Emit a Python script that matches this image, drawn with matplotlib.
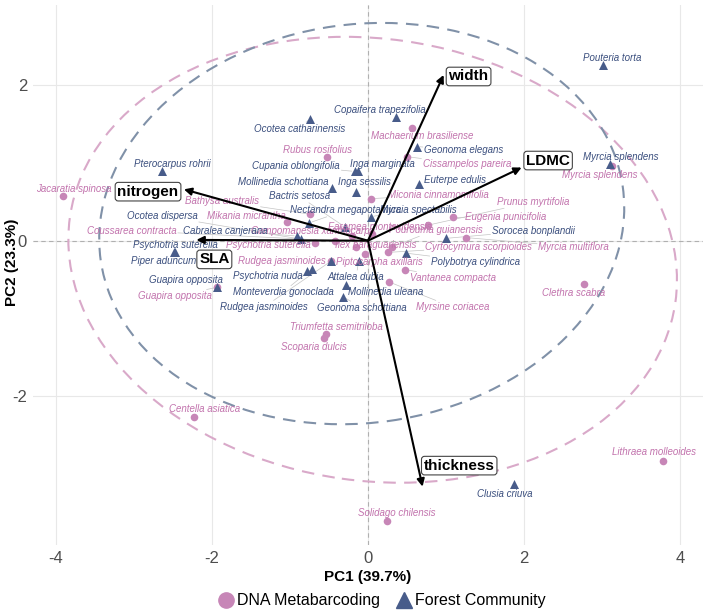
import matplotlib
matplotlib.use("Agg")
import matplotlib.pyplot as plt
from matplotlib.patches import Ellipse
from matplotlib.lines import Line2D
import numpy as np

plt.rcParams['font.family'] = ['Liberation Sans', 'DejaVu Sans']
plt.rcParams['axes.unicode_minus'] = False

# ---- data ----
forest_species = ["Pouteria torta", "Copaifera trapezifolia", "Ocotea catharinensis",
                  "Geonoma elegans", "Pterocarpus rohrii", "Cupania oblongifolia",
                  "Inga marginata", "Mollinedia schottiana", "Inga sessilis",
                  "Euterpe edulis", "Myrcia splendens", "Bactris setosa",
                  "Nectandra megapotamica", "Myrcia spectabilis", "Cabralea canjerana",
                  "Ocotea dispersa", "Psychotria suterella", "Piper aduncum",
                  "Guapira opposita", "Rudgea jasminoides", "Psychotria nuda",
                  "Monteverdia gonoclada", "Attalea dubia", "Mollinedia uleana",
                  "Geonoma schottiana", "Sorocea bonplandii", "Polybotrya cylindrica",
                  "Clusia criuva"]
forest_pc1 = [3.01, 0.36, -0.74, 0.63, -2.64, -0.17, -0.13, -0.46, -0.15, 0.65, 3.10, -0.30,
              -0.75, 0.04, -0.91, -0.86, -2.49, -2.47, -1.94, -0.47, -0.78, -0.72, -0.12,
              -0.28, -0.32, 1.00, 0.49, 1.87]
forest_pc2 = [2.26, 1.59, 1.57, 1.21, 0.90, 0.89, 0.89, 0.68, 0.63, 0.73, 0.98, 0.18,
              0.23, 0.31, 0.06, 0.02, -0.14, -0.15, -0.60, -0.26, -0.39, -0.36, -0.26,
              -0.57, -0.72, 0.03, -0.16, -3.12]

dna_species = ["Jacaratia spinosa", "Rubus rosifolius", "Machaerium brasiliense",
               "Cissampelos pareira", "Miconia cinnamomifolia", "Prunus myrtifolia",
               "Eugenia punicifolia", "Bathysa australis", "Mikania micrantha",
               "Coussarea contracta", "Campomanesia xanthocarpa", "Faramea montevidensis",
               "Pourouma guianensis", "Psychotria suterella", "Ilex paraguariensis",
               "Cyrtocymura scorpioides", "Myrcia multiflora", "Piptocarpha axillaris",
               "Vantanea compacta", "Myrsine coriacea", "Triumfetta semitriloba",
               "Scoparia dulcis", "Clethra scabra", "Myrcia splendens", "Centella asiatica",
               "Lithraea molleoides", "Solidago chilensis", "Guapira opposita",
               "Rudgea jasminoides"]
dna_pc1 = [-3.91, -0.53, 0.56, 0.50, 0.04, 0.77, 1.09, -0.74, -1.04, -0.42, -0.21, 0.05,
           0.31, -0.68, -0.15, 0.26, 1.26, -0.04, 0.47, 0.27, -0.54, -0.56, 2.77, 3.13,
           -2.23, 3.78, 0.25, -1.94, -0.47]
dna_pc2 = [0.57, 1.07, 1.45, 1.08, 0.54, 0.20, 0.31, 0.34, 0.24, 0.00, 0.06, 0.08,
           -0.08, -0.03, -0.08, -0.15, 0.04, -0.17, -0.37, -0.53, -1.20, -1.25, -0.55, 0.96,
           -2.26, -2.83, -3.60, -0.60, -0.26]

# repelled label positions (PC units)
forest_lab_x = [3.13, 0.15, -0.88, 1.23, -2.51, -0.92, 0.18, -1.09, -0.04, 1.12, 3.24, -0.88,
                -0.29, 0.64, -1.83, -2.64, -2.47, -2.62, -2.33, -1.33, -1.29, -1.09, -0.15,
                0.23, -0.08, 2.12, 1.38, 1.76]
forest_lab_y = [2.35, 1.68, 1.44, 1.16, 0.99, 0.96, 0.98, 0.76, 0.76, 0.78, 1.07, 0.57,
                0.39, 0.40, 0.13, 0.32, -0.06, -0.26, -0.51, -0.85, -0.45, -0.66, -0.46,
                -0.66, -0.86, 0.13, -0.27, -3.25]
dna_lab_x = [-3.77, -0.65, 0.69, 1.27, 0.90, 2.12, 1.77, -1.87, -1.56, -3.03, -0.71, 0.15,
             0.87, -1.28, 0.10, 1.42, 2.64, 0.15, 1.09, 1.08, -0.40, -0.69, 2.63, 2.97,
             -2.10, 3.67, 0.37, -2.47, -1.10]
dna_lab_y = [0.67, 1.17, 1.34, 0.98, 0.59, 0.50, 0.31, 0.51, 0.32, 0.13, 0.12, 0.18,
             0.14, -0.06, -0.06, -0.08, -0.08, -0.28, -0.48, -0.85, -1.11, -1.36, -0.67, 0.84,
             -2.16, -2.72, -3.50, -0.71, -0.26]

# trait loadings (arrow tips) and their label spots
traits = ["width", "LDMC", "nitrogen", "SLA", "thickness"]
trait_pc1 = [0.97, 1.97, -2.36, -2.20, 0.70]
trait_pc2 = [2.13, 0.94, 0.66, 0.01, -3.16]
trait_lab_x = [1.29, 2.31, -2.82, -1.97, 1.17]
trait_lab_y = [2.11, 1.03, 0.63, -0.24, -2.89]

pink_pt = '#c786b7'
pink_txt = '#c273ad'
blue_pt = '#485c8a'
blue_txt = '#3b4f7e'

fig = plt.figure(figsize=(7.09, 6.11), dpi=100)
ax = fig.add_axes([0.046, 0.108, 0.946, 0.884])
ax.set_xlim(-4.3, 4.3)
ax.set_ylim(-3.91, 3.03)
for s in ax.spines.values():
    s.set_visible(False)
ax.set_xticks([-4, -2, 0, 2, 4])
ax.set_yticks([-2, 0, 2])
ax.tick_params(length=0, labelsize=12, colors='#4d4d4d', pad=4)
ax.grid(color='#e8e8e8', lw=0.8)
ax.set_axisbelow(True)
ax.axhline(0, color='#b0b0b0', ls=(0, (4, 3)), lw=0.8, zorder=1)
ax.axvline(0, color='#b0b0b0', ls=(0, (4, 3)), lw=0.8, zorder=1)

# confidence ellipses
ax.add_patch(Ellipse((0.06, -0.245), 2 * 3.92, 2 * 2.84, angle=-8, fill=False,
                     ec='#d9a9c9', lw=1.5, ls=(0, (6, 4)), zorder=1.5))
ax.add_patch(Ellipse((-0.08, 0.22), 2 * 3.38, 2 * 2.56, angle=8, fill=False,
                     ec='#8091a8', lw=1.5, ls=(0, (6, 4)), zorder=1.5))

ax.scatter(dna_pc1, dna_pc2, s=30, marker='o', color=pink_pt, zorder=3, lw=0)
ax.scatter(forest_pc1, forest_pc2, s=42, marker='^', color=blue_pt, zorder=3, lw=0)

texts = []
for nm, x, y, lx, ly in zip(dna_species, dna_pc1, dna_pc2, dna_lab_x, dna_lab_y):
    t = ax.text(lx, ly, nm, color=pink_txt, fontsize=7, style='italic',
                ha='center', va='center', zorder=4)
    texts.append((t, x, y))
for nm, x, y, lx, ly in zip(forest_species, forest_pc1, forest_pc2, forest_lab_x, forest_lab_y):
    t = ax.text(lx, ly, nm, color=blue_txt, fontsize=7, style='italic',
                ha='center', va='center', zorder=4)
    texts.append((t, x, y))

# leader segments from point to label edge
fig.canvas.draw()
r = fig.canvas.get_renderer()
inv = ax.transData.inverted()
for t, x, y in texts:
    bb = t.get_window_extent(r)
    x0, y0, x1, y1 = bb.x0 - 1.5, bb.y0 - 1.5, bb.x1 + 1.5, bb.y1 + 1.5
    px, py = ax.transData.transform((x, y))
    if x0 <= px <= x1 and y0 <= py <= y1:
        continue
    cx, cy = (x0 + x1) / 2, (y0 + y1) / 2
    dx, dy = cx - px, cy - py
    tin = 0.0
    for p, d, lo, hi in ((px, dx, x0, x1), (py, dy, y0, y1)):
        if abs(d) > 1e-9:
            ta, tb = (lo - p) / d, (hi - p) / d
            tin = max(tin, min(ta, tb))
    ex, ey = px + tin * dx, py + tin * dy
    L = np.hypot(ex - px, ey - py)
    if L < 5:
        continue
    sx, sy = px + 3 * (ex - px) / L, py + 3 * (ey - py) / L
    (a, b), (c, d) = inv.transform([(sx, sy), (ex, ey)])
    ax.plot([a, c], [b, d], color='#c4c4c4', lw=0.5, zorder=2)

# trait arrows
for nm, x, y, lx, ly in zip(traits, trait_pc1, trait_pc2, trait_lab_x, trait_lab_y):
    ax.annotate('', xy=(x, y), xytext=(0, 0),
                arrowprops=dict(arrowstyle='-|>', color='black', lw=1.5,
                                mutation_scale=11, shrinkA=0, shrinkB=0), zorder=5)
    ax.text(lx, ly, nm, fontsize=11, weight='bold', ha='center', va='center', zorder=6,
            bbox=dict(boxstyle='round,pad=0.15,rounding_size=0.2', fc='white',
                      ec='#444444', lw=0.8))

fig.text(368 / 709, 1 - 577 / 611, 'PC1 (39.7%)', ha='center', va='center',
         fontsize=11, weight='bold')
fig.text(12 / 709, 1 - 262 / 611, 'PC2 (23.3%)', ha='center', va='center',
         fontsize=11, weight='bold', rotation=90)

handles = [Line2D([], [], marker='o', ls='', color=pink_pt, ms=11, label='DNA Metabarcoding'),
           Line2D([], [], marker='^', ls='', color=blue_pt, ms=11, label='Forest Community')]
fig.legend(handles=handles, loc='center', bbox_to_anchor=(0.537, 1 - 601 / 611), ncol=2,
           frameon=False, fontsize=11.5, handletextpad=0.1, columnspacing=0.9,
           handlelength=1.2)

fig.savefig('out.png', dpi=100)
